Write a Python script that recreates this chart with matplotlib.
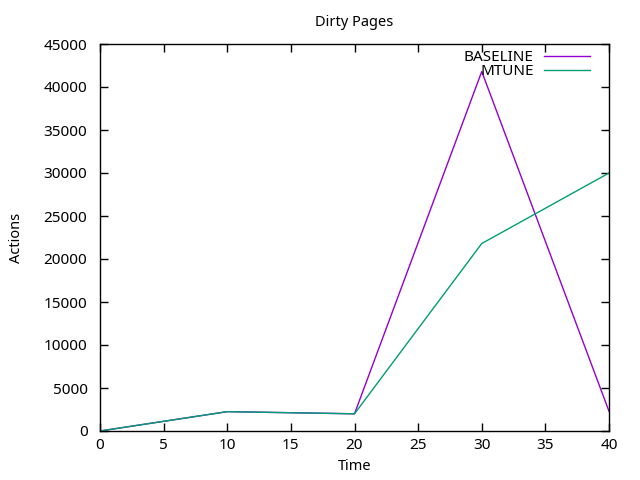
import matplotlib
matplotlib.use("Agg")
import matplotlib.pyplot as plt

# values
time = [0, 10, 20, 30, 40]
baseline = [0, 2250, 2000, 41800, 2300]
mtune = [0, 2250, 2000, 21800, 30000]

plt.rcParams['font.family'] = ['Noto Sans', 'DejaVu Sans']

fig = plt.figure(figsize=(6.4, 4.8), dpi=100)
ax = fig.add_axes([100 / 640, 1 - 431 / 480, 509 / 640, 387 / 480])

ax.plot(time, baseline, color='#9400d3', lw=1, label='BASELINE')
ax.plot(time, mtune, color='#009e73', lw=1, label='MTUNE')

ax.set_xlim(0, 40)
ax.set_ylim(0, 45000)
ax.set_xticks(range(0, 41, 5))
ax.set_yticks(range(0, 45001, 5000))
ax.tick_params(direction='in', top=True, right=True, labelsize=11, length=6, width=1)
ax.tick_params(axis='y', pad=9)
ax.tick_params(axis='x', pad=5)
for s in ax.spines.values():
    s.set_linewidth(1)

ax.set_xlabel('Time', fontsize=10.5, labelpad=4)
ax.set_ylabel('Actions', fontsize=10.5, labelpad=14)
ax.set_title('Dirty Pages', fontsize=10.5, pad=13)

leg = ax.legend(loc='upper right', frameon=False, fontsize=11, markerfirst=False,
                handlelength=3.0, handletextpad=0.7, labelspacing=-0.08,
                borderaxespad=0.0, bbox_to_anchor=(0.975, 0.999))
for t in leg.get_texts():
    t.set_ha('right')

fig.savefig('out.png', dpi=100)
